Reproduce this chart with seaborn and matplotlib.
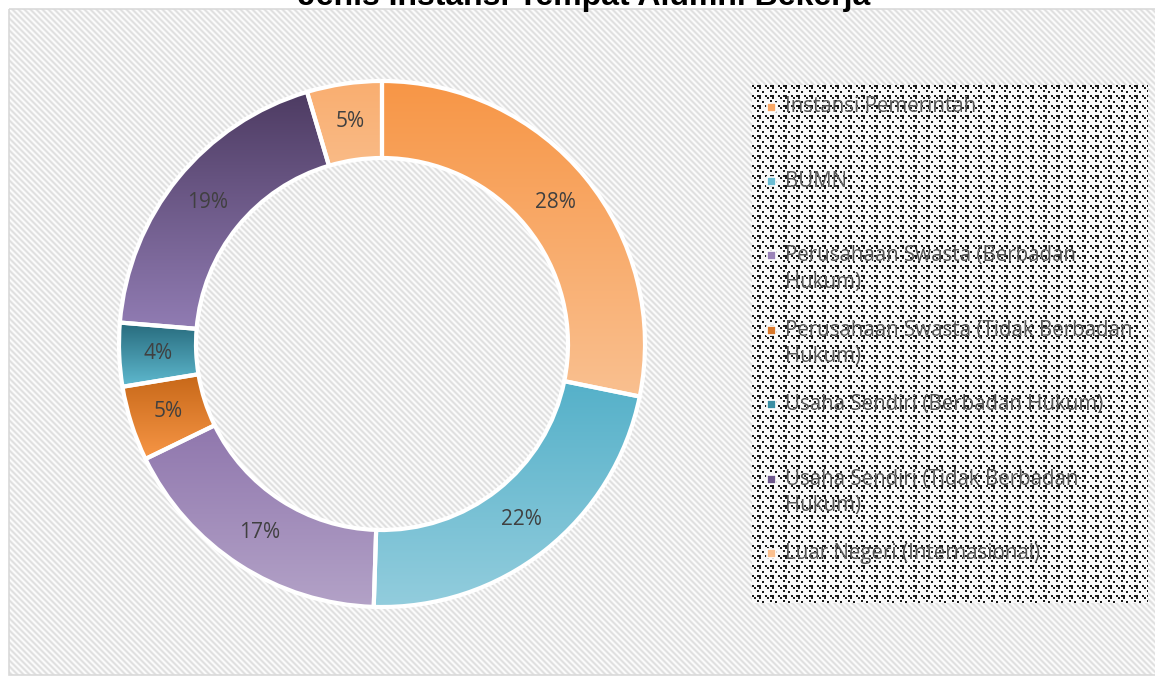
import numpy as np
import pandas as pd
import seaborn as sns
import matplotlib
matplotlib.use("Agg")
import matplotlib.pyplot as plt
from matplotlib.patches import Rectangle
from matplotlib.colors import LinearSegmentedColormap

# ---------------- data ----------------
title = "Jenis Instansi Tempat Alumni Bekerja"
categories = [
    "Instansi Pemerintah",
    "BUMN",
    "Perusahaan Swasta (Berbadan Hukum)",
    "Perusahaan Swasta (Tidak Berbadan Hukum)",
    "Usaha Sendiri (Berbadan Hukum)",
    "Usaha Sendiri (Tidak Berbadan Hukum)",
    "Luar Negeri (Internasional)",
]
legend_lines = [
    ["Instansi Pemerintah"],
    ["BUMN"],
    ["Perusahaan Swasta (Berbadan", "Hukum)"],
    ["Perusahaan Swasta (Tidak Berbadan", "Hukum)"],
    ["Usaha Sendiri (Berbadan Hukum)"],
    ["Usaha Sendiri (Tidak Berbadan", "Hukum)"],
    ["Luar Negeri (Internasional)"],
]
shares = [28.2, 22.3, 17.3, 4.6, 3.9, 19.1, 4.6]
top_colors = ["#f79646", "#4bacc6", "#8064a2", "#b65708", "#276a7c", "#4d3b62", "#f9ae70"]
bottom_colors = ["#fac090", "#93cddd", "#b3a2c7", "#f79646", "#5fbad0", "#9580b8", "#fcd5b5"]
marker_colors = ["#f9a765", "#6bbcd2", "#9a83b8", "#d8772a", "#3a8ea3", "#6d578b", "#fbc08f"]

df = pd.DataFrame({"category": categories, "share": shares})

# ---------------- style ----------------
W, H = 1155, 677
sns.set_theme(style="white")
plt.rcParams["font.family"] = ["Open Sans", "DejaVu Sans"]

fig = plt.figure(figsize=(W / 100, H / 100), dpi=100, facecolor="white")

# background (pixel coordinates)
bg = fig.add_axes([0, 0, 1, 1], zorder=0)
bg.set_xlim(0, W)
bg.set_ylim(H, 0)
bg.axis("off")

yy, xx = np.mgrid[9:675, 9:W]
stripes = 0.93 + 0.06 * np.cos(2 * np.pi * (xx - yy) / 6.0)
bg.imshow(stripes, cmap="gray", vmin=0, vmax=1, extent=(9, W, 675, 9),
          interpolation="nearest", aspect="auto", zorder=0)
bg.add_patch(Rectangle((8.5, 8.5), W, 666, fill=False, edgecolor="#d9d9d9", lw=1.2, zorder=1))
bg.set_xlim(0, W)
bg.set_ylim(H, 0)

# legend box with dotted texture
lx0, lx1, ly0, ly1 = 752, 1148, 85, 603
tile = np.zeros((10, 13))
tile[0:2, 0:2] = 1
tile[0:2, 5:9] = 1
tile[2:4, 7:9] = 1
tile[2:4, 2:4] = 1
tile[6:8, 10:12] = 1
tile[5:7, 5:7] = 1
reps = (int(np.ceil((ly1 - ly0) / tile.shape[0])) + 1, int(np.ceil((lx1 - lx0) / tile.shape[1])) + 1)
tex = np.tile(tile, reps)[: ly1 - ly0, : lx1 - lx0]
tex_img = 0.97 - 0.87 * tex
bg.imshow(tex_img, cmap="gray", vmin=0, vmax=1, extent=(lx0, lx1, ly1, ly0),
          interpolation="nearest", aspect="auto", zorder=2)
bg.set_xlim(0, W)
bg.set_ylim(H, 0)

# legend entries
entry_y0, entry_step, line_step = 107, 74.4, 26.7
for i, (lines, col) in enumerate(zip(legend_lines, marker_colors)):
    y = entry_y0 + i * entry_step
    bg.add_patch(Rectangle((766.5, y - 4.5), 9, 9, facecolor=col, edgecolor="white", lw=1.2, zorder=3))
    for k, line in enumerate(lines):
        bg.text(785, y + k * line_step, line, va="center", ha="left", fontsize=14.8,
                color="#595959", zorder=4)

# title (cut off at top as in reference)
bg.text(584, 5, title, ha="center", va="baseline", fontsize=23, fontweight="bold",
        family=["Liberation Sans", "DejaVu Sans"], color="black", zorder=5)

# ---------------- donut ----------------
cx, cy, R = 382, 344, 263
ax = fig.add_axes([(cx - R) / W, (H - cy - R) / H, 2 * R / W, 2 * R / H], zorder=2)
ax.patch.set_alpha(0)
wedges, texts, autotexts = ax.pie(
    df["share"], startangle=90, counterclock=False, radius=1,
    wedgeprops=dict(width=1 - 186 / 263, edgecolor="white", linewidth=3),
    autopct=lambda p: f"{p:.0f}%", pctdistance=0.853,
    textprops=dict(fontsize=15, color="#404040"),
)
for w, c0, c1 in zip(wedges, top_colors, bottom_colors):
    v = w.get_path().vertices
    x0, x1 = v[:, 0].min(), v[:, 0].max()
    y0, y1 = v[:, 1].min(), v[:, 1].max()
    cmap = LinearSegmentedColormap.from_list("g", [c1, c0])
    grad = np.linspace(0, 1, 256).reshape(-1, 1)
    im = ax.imshow(grad, cmap=cmap, extent=(x0, x1, y0, y1), origin="lower",
                   aspect="auto", zorder=1, interpolation="bilinear")
    im.set_clip_path(w)
    w.set_facecolor("none")
    w.set_zorder(2)
for t in autotexts:
    t.set_zorder(4)
ax.set_xlim(-1, 1)
ax.set_ylim(-1, 1)
ax.axis("off")

fig.savefig("out.png", dpi=100, facecolor="white")
